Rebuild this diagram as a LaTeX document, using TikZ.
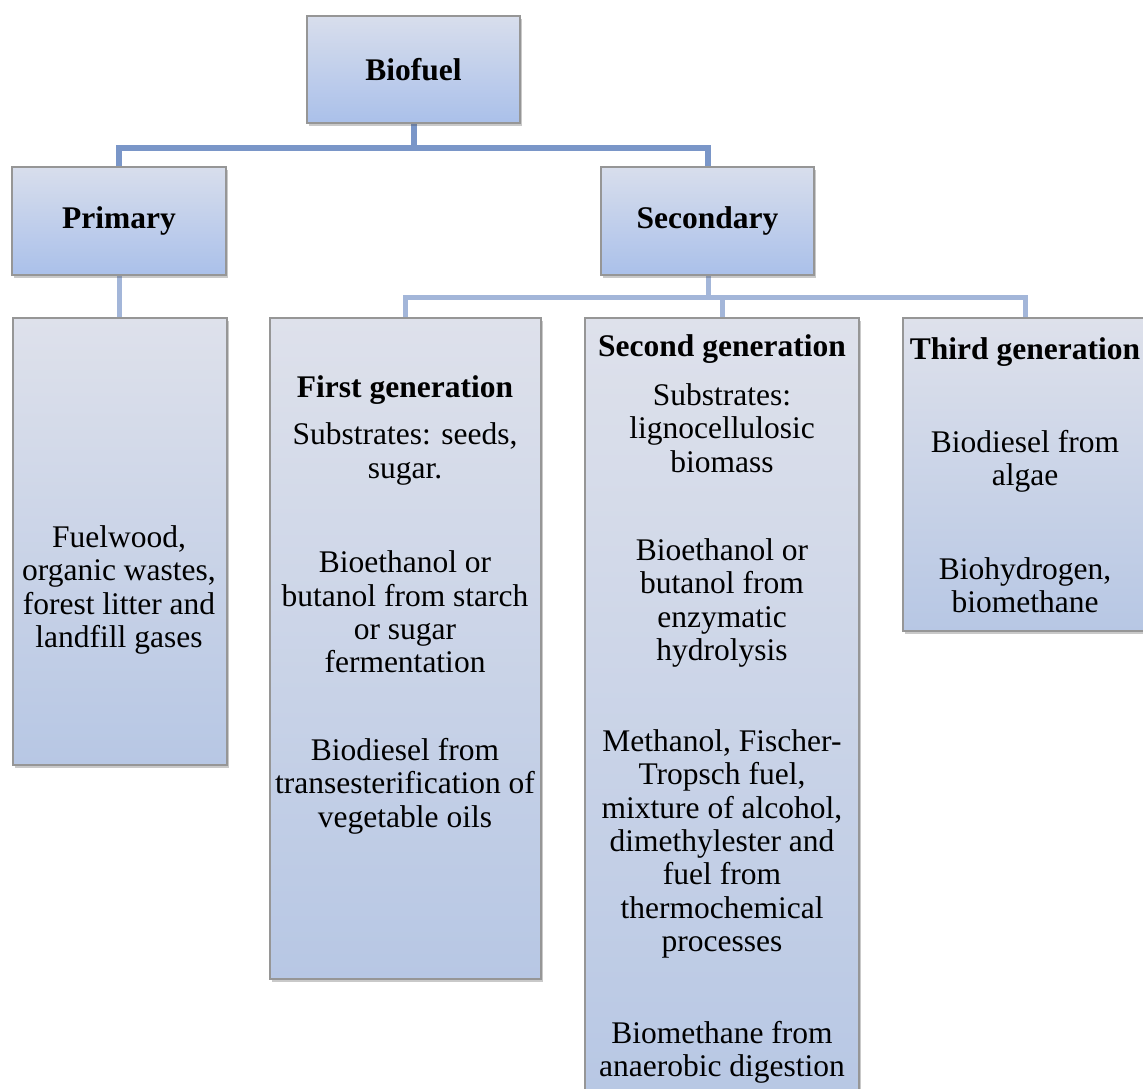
\documentclass[tikz,border=0pt]{standalone}
\usepackage{fontspec}
\setmainfont{Liberation Serif}
\usetikzlibrary{shadows}
\definecolor{connA}{RGB}{122,150,200}
\definecolor{connB}{RGB}{163,182,217}
\definecolor{boxline}{RGB}{150,150,150}
\definecolor{topT}{RGB}{216,222,236}
\definecolor{topB}{RGB}{170,192,234}
\definecolor{cntT}{RGB}{222,225,235}
\definecolor{cntB}{RGB}{183,199,228}
\tikzset{
  headbox/.style={draw=boxline, line width=1.2pt, top color=topT, bottom color=topB,
    inner sep=0pt, font=\fontsize{31.5}{33.3}\selectfont\bfseries,
    drop shadow={shadow xshift=2pt, shadow yshift=-3pt, opacity=0.3, fill=black!70}},
  contbox/.style={draw=boxline, line width=1.2pt, top color=cntT, bottom color=cntB,
    inner sep=0pt,
    drop shadow={shadow xshift=2pt, shadow yshift=-3pt, opacity=0.3, fill=black!70}},
  txt/.style={align=center, inner sep=0pt, font=\fontsize{31.5}{33.3}\selectfont},
  ttl/.style={align=center, inner sep=0pt, font=\fontsize{31.5}{33.3}\selectfont\bfseries},
  connup/.style={draw=connA, line width=6pt, line join=miter},
  conndn/.style={draw=connB, line width=5pt, line join=miter},
}
\begin{document}
\begin{tikzpicture}[x=1pt, y=-1pt]
\useasboundingbox (0,0) rectangle (1143,1088);
\clip (0,0) rectangle (1143,1088);
% junctions
\coordinate (j1) at (414,148);
\coordinate (j2) at (708,297);
% connectors (drawn first)
\coordinate (bfS) at (414,123);
\coordinate (prN) at (119,167);
\coordinate (seN) at (708,167);
\coordinate (prS) at (119,275);
\coordinate (seS) at (708,275);
\coordinate (pcN) at (119,318);
\coordinate (fgN) at (405,318);
\coordinate (sgN) at (722,318);
\coordinate (tgN) at (1025,318);
\draw[connup] (bfS) -- (j1);
\draw[connup] (prN) |- (j1) -| (seN);
\draw[conndn] (prS) -- (pcN);
\draw[conndn] (seS) -- (j2);
\draw[conndn] (fgN) |- (j2) -| (tgN);
\draw[conndn] (sgN) -- (sgN |- j2);
% head boxes
\node[headbox, minimum width=213pt, minimum height=107pt] (biofuel) at (413.5,69.5) {Biofuel};
\node[headbox, minimum width=214pt, minimum height=108pt] (primary) at (119,221) {Primary};
\node[headbox, minimum width=213pt, minimum height=108pt] (secondary) at (707.5,221) {Secondary};
% content boxes
\node[contbox, minimum width=214pt, minimum height=447pt] (pc) at (120,541.5) {};
\node[contbox, minimum width=271pt, minimum height=661pt] (fg) at (405.5,648.5) {};
\node[contbox, minimum width=274pt, minimum height=790pt] (sg) at (722,713) {};
\node[contbox, minimum width=244pt, minimum height=313pt] (tg) at (1025,474.5) {};
% primary content
\node[txt] (pct) at (119,590) {Fuelwood,\\organic wastes,\\forest litter and\\landfill gases};
% first generation
\node[ttl] (fgt) at (405,390) {First generation};
\node[txt] (fg1) at (405,454) {Substrates: seeds,\\sugar.};
\node[txt] (fg2) at (405,612) {Bioethanol or\\butanol from starch\\or sugar\\fermentation};
\node[txt] (fg3) at (405,786) {Biodiesel from\\transesterification of\\vegetable oils};
% second generation
\node[ttl] (sgt) at (722,349) {Second generation};
\node[txt] (sg1) at (722,428) {Substrates:\\lignocellulosic\\biomass};
\node[txt] (sg2) at (722,603) {Bioethanol or\\butanol from\\enzymatic\\hydrolysis};
\node[txt] (sg3) at (722,844) {Methanol, Fischer-\\Tropsch fuel,\\mixture of alcohol,\\dimethylester and\\fuel from\\thermochemical\\processes};
\node[txt] (sg4) at (722,1052) {Biomethane from\\anaerobic digestion};
% third generation
\node[ttl] (tgt) at (1025,352) {Third generation};
\node[txt] (tg1) at (1025,461) {Biodiesel from\\algae};
\node[txt] (tg2) at (1025,585) {Biohydrogen,\\biomethane};
\end{tikzpicture}
\end{document}
